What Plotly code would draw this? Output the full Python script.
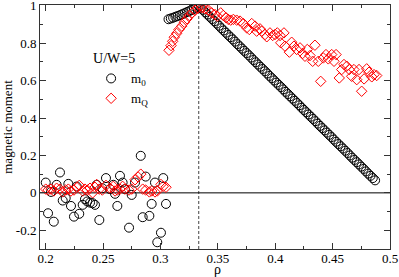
import plotly.graph_objects as go

# m0 (black circles)
m0_x = [0.2000, 0.2020, 0.2046, 0.2070, 0.2095, 0.2124, 0.2148, 0.2174, 0.2197, 0.2220,
        0.2246, 0.2270, 0.2292, 0.2322, 0.2342, 0.2362, 0.2386, 0.2409, 0.2429, 0.2444,
        0.2467, 0.2493, 0.2525, 0.2560, 0.2589, 0.2604, 0.2624, 0.2647, 0.2670, 0.2690,
        0.2726, 0.2749, 0.2778, 0.2828, 0.2845, 0.2871, 0.2903, 0.2923, 0.2952, 0.2972,
        0.3004, 0.3024, 0.3048,
        0.307, 0.309, 0.311, 0.313, 0.315, 0.317, 0.319, 0.321, 0.323, 0.325, 0.327, 0.329, 0.331, 0.3333,
        0.335, 0.337, 0.339, 0.341, 0.343, 0.345, 0.347, 0.349, 0.351, 0.353,
        0.355, 0.357, 0.359, 0.361, 0.363, 0.365, 0.367, 0.369, 0.371, 0.373,
        0.375, 0.377, 0.379, 0.381, 0.383, 0.385, 0.387, 0.389, 0.391, 0.393,
        0.395, 0.397, 0.399, 0.401, 0.403, 0.405, 0.407, 0.409, 0.411, 0.413,
        0.415, 0.417, 0.419, 0.421, 0.423, 0.425, 0.427, 0.429, 0.431, 0.433,
        0.435, 0.437, 0.439, 0.441, 0.443, 0.445, 0.447, 0.449, 0.451, 0.453,
        0.455, 0.457, 0.459, 0.461, 0.463, 0.465, 0.467, 0.469, 0.471, 0.473,
        0.475, 0.477, 0.479, 0.481, 0.483, 0.485, 0.487]
m0_y = [0.055, -0.109, 0.005, -0.154, 0.043, 0.109, -0.041, -0.028, 0.048, -0.070,
        -0.127, 0.034, -0.112, -0.064, -0.034, -0.046, -0.052, -0.055, -0.064, 0.043,
        -0.145, 0.025, 0.079, 0.020, 0.043, -0.005, -0.070, 0.091, 0.055, 0.020,
        -0.186, -0.011, 0.055, 0.198, -0.130, 0.087, -0.123, -0.059, 0.055, -0.264,
        -0.213, 0.079, -0.059,
        0.928, 0.932, 0.936, 0.941, 0.945, 0.950, 0.955, 0.960, 0.966, 0.971, 0.977, 0.983, 0.990, 1.000,
        0.990, 0.978, 0.965, 0.953, 0.941, 0.929, 0.917, 0.905, 0.893, 0.880,
        0.868, 0.856, 0.844, 0.832, 0.820, 0.808, 0.795, 0.783, 0.771, 0.759,
        0.747, 0.735, 0.723, 0.710, 0.698, 0.686, 0.674, 0.662, 0.650, 0.638,
        0.625, 0.613, 0.601, 0.589, 0.577, 0.565, 0.553, 0.540, 0.528, 0.516,
        0.504, 0.492, 0.480, 0.468, 0.455, 0.443, 0.431, 0.419, 0.407, 0.395,
        0.383, 0.370, 0.358, 0.346, 0.334, 0.322, 0.310, 0.298, 0.285, 0.273,
        0.261, 0.249, 0.237, 0.225, 0.213, 0.200, 0.188, 0.176, 0.164, 0.152,
        0.140, 0.128, 0.115, 0.103, 0.091, 0.079, 0.067]

# mQ (red diamonds)
mq_x = [0.2000, 0.2020, 0.2046, 0.2070, 0.2095, 0.2124, 0.2148, 0.2174, 0.2197, 0.2220,
        0.2246, 0.2270, 0.2292, 0.2322, 0.2342, 0.2362, 0.2386, 0.2409, 0.2429, 0.2444,
        0.2467, 0.2493, 0.2525, 0.2560, 0.2589, 0.2604, 0.2624, 0.2647, 0.2670, 0.2690,
        0.2726, 0.2749, 0.2778, 0.2805, 0.2828, 0.2845, 0.2871, 0.2903, 0.2923, 0.2952,
        0.2972, 0.3004, 0.3024, 0.3048,
        0.3074, 0.3092, 0.3106, 0.3120, 0.3141, 0.3161, 0.3185, 0.3208, 0.3231, 0.3251,
        0.3277, 0.3301, 0.3324,
        0.3359, 0.3388, 0.3417, 0.3446, 0.3475, 0.3495, 0.3525, 0.3547, 0.3571, 0.3591,
        0.3612, 0.3635, 0.3664, 0.3693, 0.3722, 0.3751, 0.3774, 0.3795, 0.3824, 0.3838,
        0.3867, 0.3882, 0.3911, 0.3926, 0.3954, 0.3978, 0.3998, 0.4018, 0.4042, 0.4076,
        0.4048, 0.4085, 0.4123, 0.4143, 0.4163, 0.4187, 0.4216, 0.4239, 0.4259, 0.4279,
        0.4303, 0.4326, 0.4346, 0.4375, 0.4396, 0.4419, 0.4442, 0.4462, 0.4492, 0.4512,
        0.4530, 0.4558, 0.4579, 0.4599, 0.4623, 0.4645, 0.4666, 0.4686, 0.4710, 0.4730,
        0.4753, 0.4774, 0.4797, 0.4817, 0.4841, 0.4861, 0.4884]
mq_y = [0.020, 0.015, 0.020, 0.010, 0.025, 0.020, 0.005, 0.015, 0.020, 0.010,
        0.015, 0.030, 0.040, 0.010, 0.020, 0.015, 0.025, 0.000, 0.030, 0.045,
        0.020, 0.015, 0.040, 0.025, 0.035, 0.010, 0.015, 0.020, 0.035, 0.020,
        0.015, 0.020, 0.070, 0.085, 0.100, 0.020, 0.015, 0.005, 0.010, 0.005,
        0.010, 0.045, 0.035, 0.030,
        0.762, 0.787, 0.810, 0.832, 0.852, 0.873, 0.891, 0.912, 0.930, 0.948,
        0.962, 0.976, 0.987,
        0.989, 0.984, 0.977, 0.962, 0.953, 0.944, 0.962, 0.948, 0.936, 0.927,
        0.923, 0.927, 0.923, 0.918, 0.905, 0.882, 0.873, 0.905, 0.891, 0.864,
        0.877, 0.864, 0.846, 0.834, 0.855, 0.841, 0.846, 0.855, 0.841, 0.855,
        0.802, 0.784, 0.752, 0.805, 0.784, 0.766, 0.775, 0.745, 0.730, 0.766,
        0.734, 0.703, 0.789, 0.703, 0.596, 0.721, 0.739, 0.716, 0.739, 0.703,
        0.739, 0.614, 0.659, 0.686, 0.677, 0.659, 0.623, 0.659, 0.605, 0.659,
        0.543, 0.609, 0.663, 0.645, 0.620, 0.632, 0.627]

x_ticks = [0.2, 0.25, 0.3, 0.35, 0.4, 0.45, 0.5]
x_tick_labels = ["0.2", "0.25", "0.3", "0.35", "0.4", "0.45", "0.5"]
y_ticks = [-0.2, 0, 0.2, 0.4, 0.6, 0.8, 1]
y_tick_labels = ["-0.2", "0", "0.2", "0.4", "0.6", "0.8", "1"]
rho_c = 1 / 3

FONT = "Liberation Serif"

fig = go.Figure()
fig.add_trace(go.Scatter(
    x=m0_x, y=m0_y, mode="markers", name="m<sub>0</sub>",
    marker=dict(symbol="circle-open", size=9, color="black", line=dict(width=1, color="black")),
))
fig.add_trace(go.Scatter(
    x=mq_x, y=mq_y, mode="markers", name="m<sub>Q</sub>",
    marker=dict(symbol="diamond-open", size=8, color="red", line=dict(width=1, color="red")),
))

fig.add_shape(type="line", xref="x", yref="paper", x0=rho_c, x1=rho_c, y0=0, y1=1,
              line=dict(color="#444444", width=1, dash="3px,2px"), layer="below")
fig.add_shape(type="line", xref="paper", yref="y", x0=0, x1=1, y0=0, y1=0,
              line=dict(color="black", width=1), layer="below")

axis_common = dict(
    showgrid=False, zeroline=False, showline=True, linecolor="#333333", linewidth=1,
    mirror="allticks", ticks="inside", ticklen=6, tickcolor="#333333", tickwidth=1,
    tickfont=dict(family=FONT, size=13, color="black"),
    automargin=False, ticklabeloverflow="allow",
)
fig.update_xaxes(range=[0.195, 0.5], tickvals=x_ticks, ticktext=x_tick_labels,
                 minor=dict(ticks="inside", ticklen=3, dtick=0.025, tickcolor="#333333"),
                 ticklabelstandoff=-3,
                 **axis_common)
fig.update_yaxes(range=[-0.3, 1.004], tickvals=y_ticks, ticktext=y_tick_labels,
                 minor=dict(ticks="inside", ticklen=3, dtick=0.1, tickcolor="#333333"),
                 title=dict(text="magnetic moment", font=dict(family=FONT, size=13, color="black"), standoff=6),
                 **axis_common)

fig.add_annotation(text="ρ", xref="paper", yref="paper", x=0.508, y=0, yshift=-20,
                   xanchor="center", yanchor="middle", showarrow=False,
                   font=dict(family=FONT, size=14, color="black"))

fig.update_layout(
    width=399, height=277,
    margin=dict(l=40, r=9, t=5, b=28),
    plot_bgcolor="white", paper_bgcolor="white",
    font=dict(family=FONT, color="black"),
    showlegend=True,
    legend=dict(
        title=dict(text="U/W=5", font=dict(family=FONT, size=14, color="black")),
        x=0.146, y=0.835, xanchor="left", yanchor="top",
        bgcolor="rgba(0,0,0,0)", borderwidth=0,
        font=dict(family=FONT, size=13, color="black"),
        itemwidth=30, tracegroupgap=0,
    ),
)

fig.write_html("out.html", config={"displayModeBar": False},
               post_script="document.body.style.margin='0px';")
